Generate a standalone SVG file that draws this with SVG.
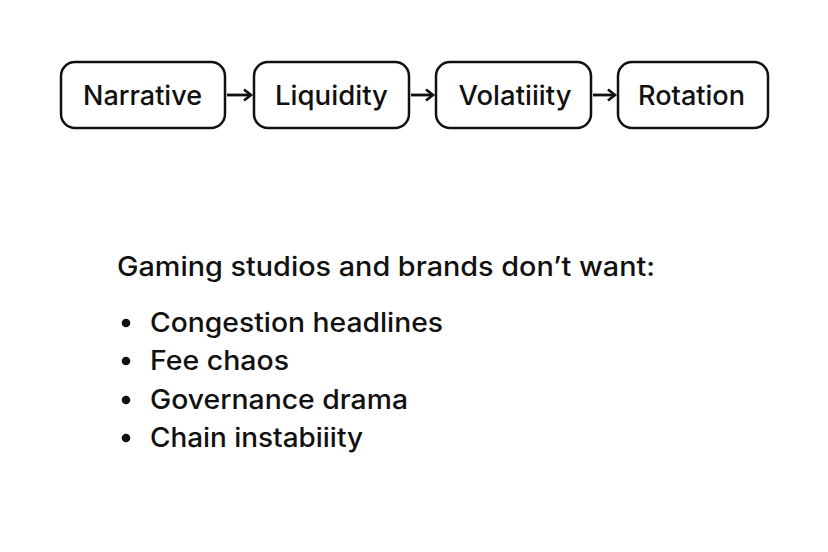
<svg xmlns="http://www.w3.org/2000/svg" width="828" height="552" viewBox="0 0 828 552">
<style>
.box{fill:#fff;stroke:#111;stroke-width:2.5}
.lbl{font-family:Inter,"Liberation Sans",sans-serif;font-size:27px;font-weight:500;fill:#111;text-anchor:middle;dominant-baseline:central}
.txt{font-family:Inter,"Liberation Sans",sans-serif;font-size:26.5px;font-weight:500;fill:#111}
.edge{stroke:#111;stroke-width:2.8;fill:none}
</style>
<defs>
<marker id="ah" markerWidth="12" markerHeight="14" refX="9" refY="7" orient="auto" markerUnits="userSpaceOnUse">
<path d="M2,1.5 L9,7 L2,12.5" fill="none" stroke="#111" stroke-width="2.6" stroke-linejoin="miter"/>
</marker>
</defs>
<rect width="828" height="552" fill="#fff"/>
<g id="n1"><rect class="box" x="61" y="62" width="164" height="66" rx="14"/><text class="lbl" x="142.5" y="95" textLength="119" lengthAdjust="spacingAndGlyphs">Narrative</text></g>
<g id="n2"><rect class="box" x="254" y="62" width="155" height="66" rx="14"/><text class="lbl" x="331.5" y="95" textLength="113" lengthAdjust="spacingAndGlyphs">Liquidity</text></g>
<g id="n3"><rect class="box" x="436" y="62" width="155" height="66" rx="14"/><text class="lbl" x="515" y="95" textLength="113" lengthAdjust="spacingAndGlyphs">Volatiiity</text></g>
<g id="n4"><rect class="box" x="618" y="62" width="150" height="66" rx="14"/><text class="lbl" x="691.5" y="95" textLength="107" lengthAdjust="spacingAndGlyphs">Rotation</text></g>
<g id="edges">
<line class="edge" x1="227" y1="95" x2="251" y2="95" marker-end="url(#ah)"/>
<line class="edge" x1="411" y1="95" x2="433" y2="95" marker-end="url(#ah)"/>
<line class="edge" x1="593" y1="95" x2="615" y2="95" marker-end="url(#ah)"/>
</g>
<g id="list">
<text class="txt" x="117" y="276" textLength="538" lengthAdjust="spacingAndGlyphs">Gaming studios and brands don’t want:</text>
<circle cx="126" cy="323" r="4.3" fill="#111"/>
<text class="txt" x="150" y="332" textLength="293" lengthAdjust="spacingAndGlyphs">Congestion headlines</text>
<circle cx="126" cy="361" r="4.3" fill="#111"/>
<text class="txt" x="150" y="370" textLength="139" lengthAdjust="spacingAndGlyphs">Fee chaos</text>
<circle cx="126" cy="400" r="4.3" fill="#111"/>
<text class="txt" x="150" y="409" textLength="258" lengthAdjust="spacingAndGlyphs">Governance drama</text>
<circle cx="126" cy="438" r="4.3" fill="#111"/>
<text class="txt" x="150" y="447" textLength="213" lengthAdjust="spacingAndGlyphs">Chain instabiiity</text>
</g>
</svg>
